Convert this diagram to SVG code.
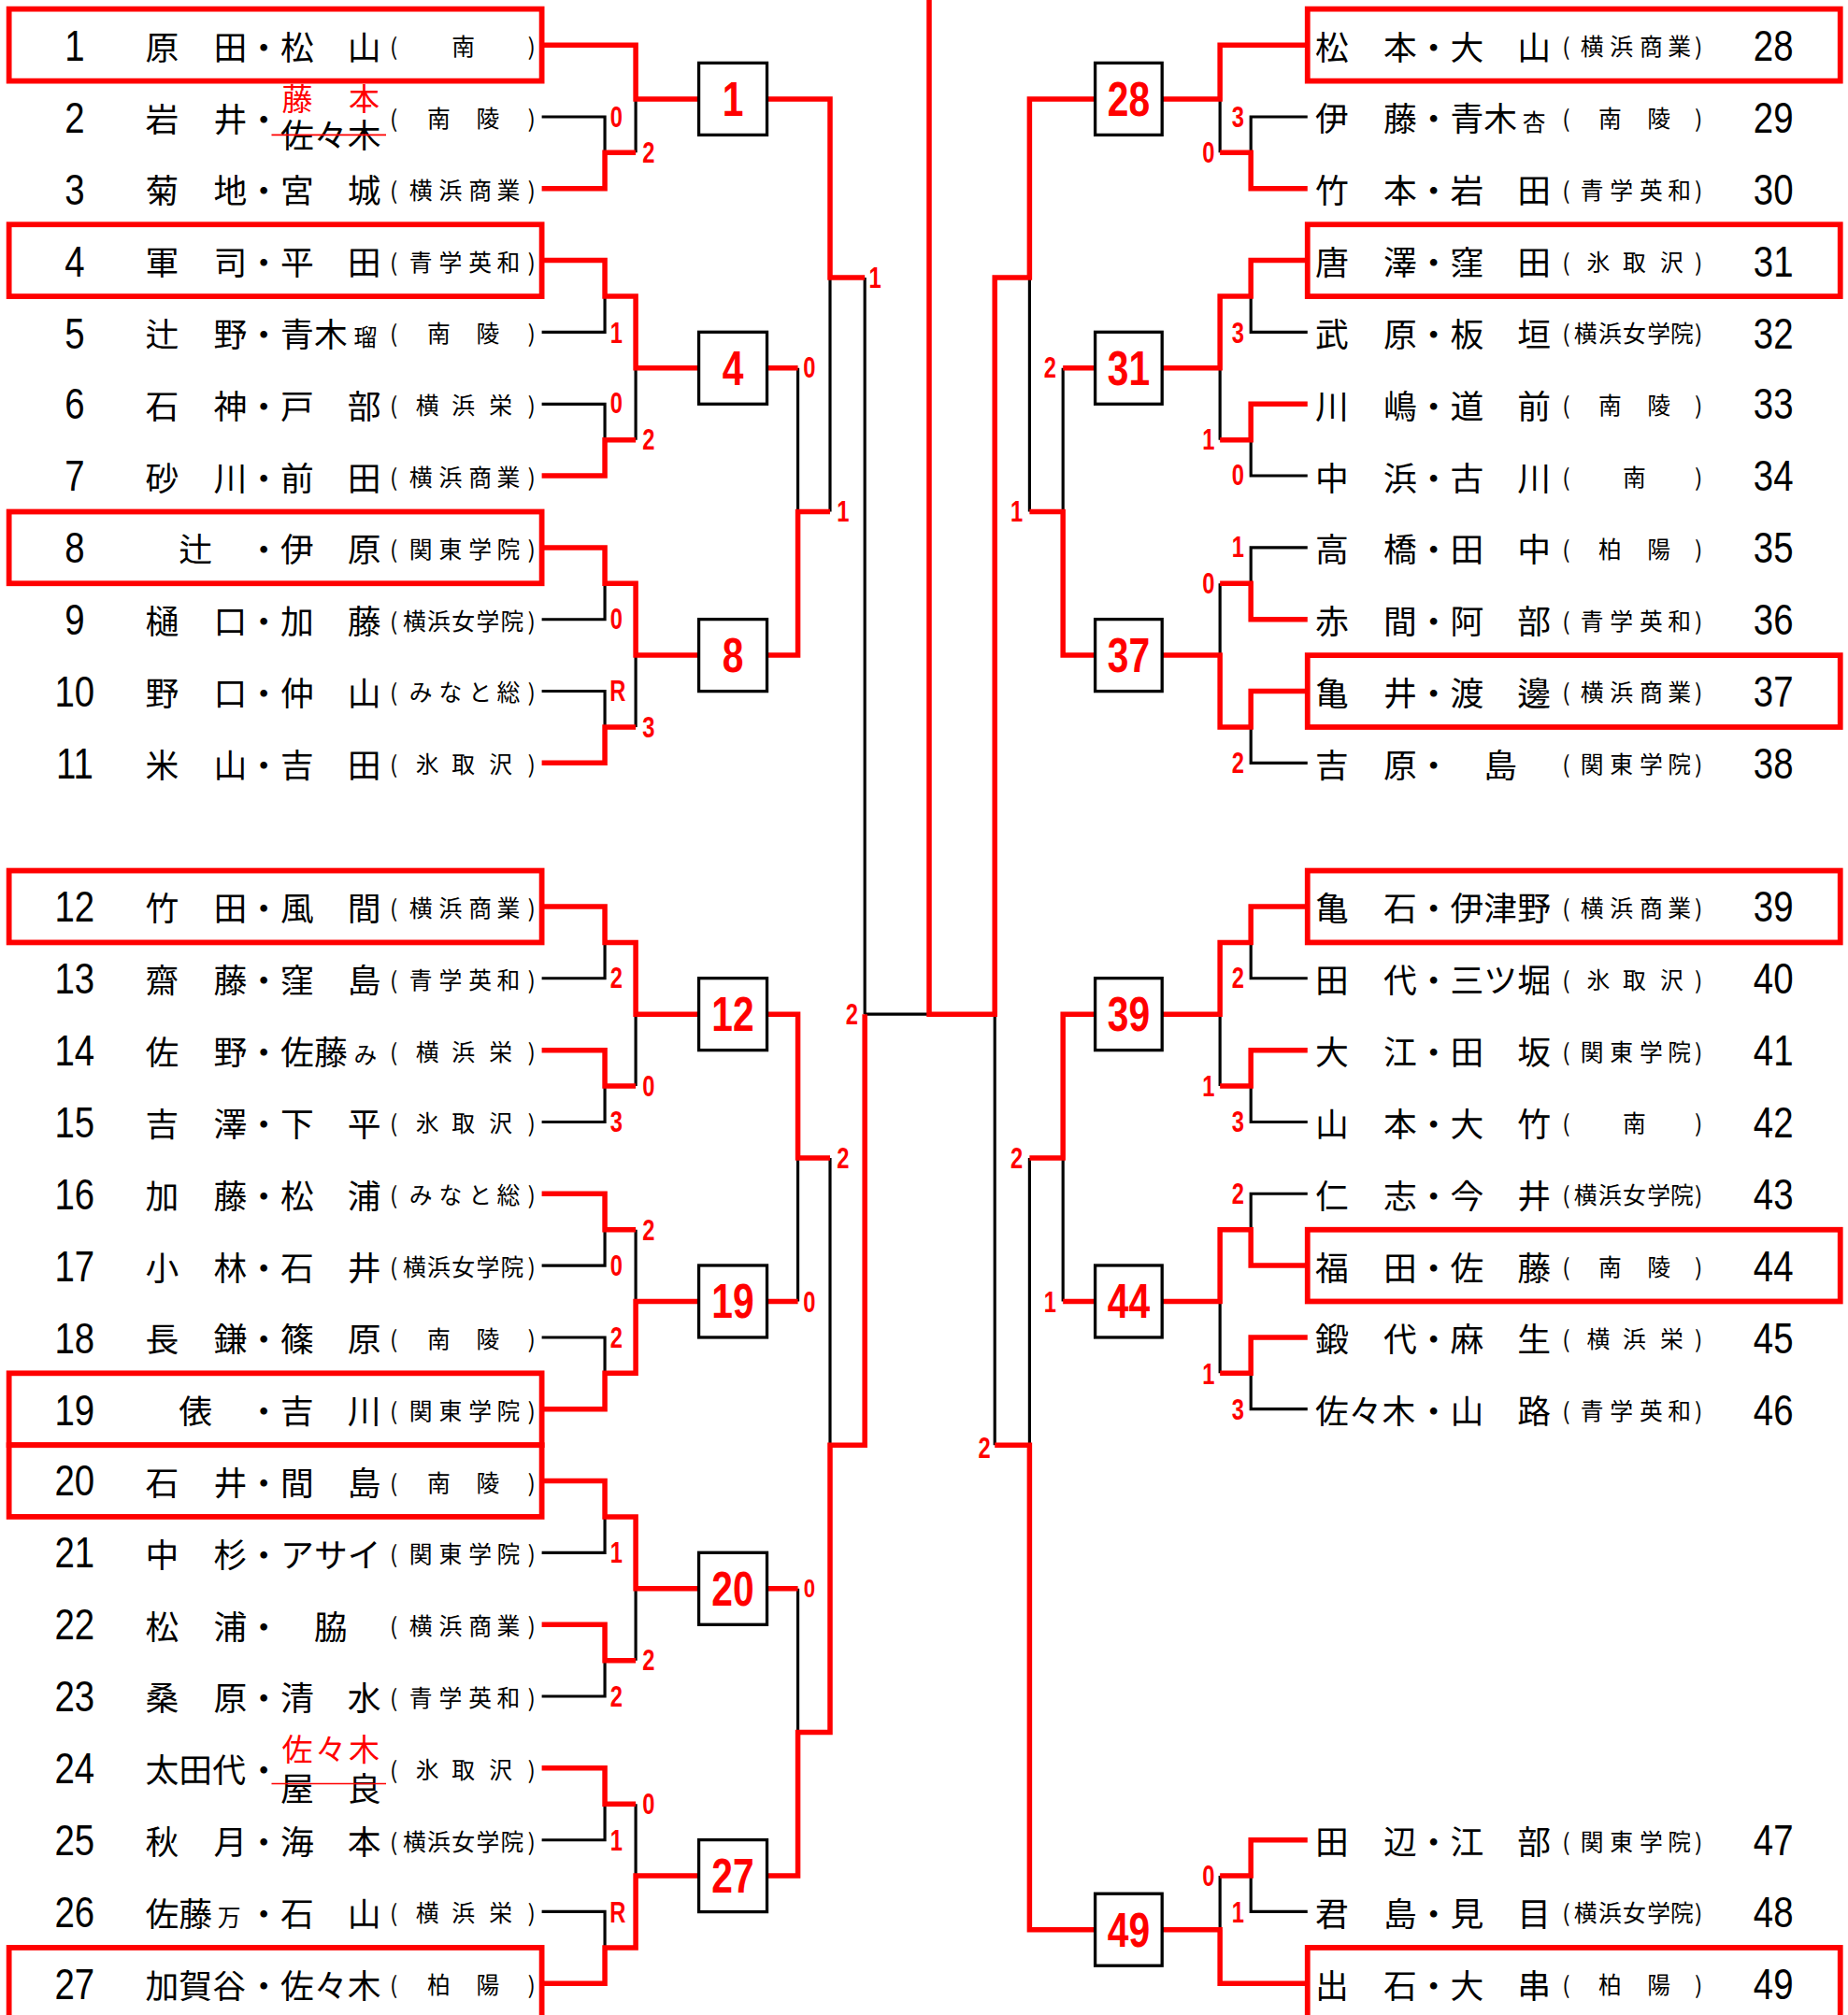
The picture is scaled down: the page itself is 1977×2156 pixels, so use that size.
<svg xmlns="http://www.w3.org/2000/svg" width="1977" height="2156" viewBox="0 0 1977 2156">
<style>
.num{font-family:"Liberation Sans",Arial,sans-serif;font-size:34px;fill:#000;text-anchor:middle;dominant-baseline:central}
.nm{font-family:"Noto Sans CJK JP",sans-serif;font-size:26px;fill:#000;text-anchor:middle;dominant-baseline:central}
.red{fill:#f00;font-size:24px}
.sm{font-family:"Noto Sans CJK JP",sans-serif;font-size:18px;fill:#000;text-anchor:middle;dominant-baseline:central}
.sc{font-family:"Noto Sans CJK JP",sans-serif;font-size:18px;fill:#000;text-anchor:middle;dominant-baseline:central}
.bx{fill:none;stroke:#f00;stroke-width:4.2}
.rb{fill:#fff;stroke:#000;stroke-width:2.4}
.rn{font-family:"Liberation Sans",Arial,sans-serif;font-weight:bold;font-size:38px;fill:#f00;text-anchor:middle;dominant-baseline:central}
.s{font-family:"Liberation Sans",Arial,sans-serif;font-weight:bold;font-size:23px;fill:#f00;text-anchor:middle;dominant-baseline:central}
.k{fill:none;stroke:#000;stroke-width:2.3}
.r{fill:none;stroke:#f00;stroke-width:4}
.st{stroke:#f00;stroke-width:1.2}
</style>
<rect width="1977" height="2156" fill="#fff"/>
<g transform="scale(1.37674,1.375)">
<g id="connectors">
<path class="k" d="M421,90.9H470V118.8 M494,77V118.8 M645,216V398.2 M672,216V789.2 M421,258.5H470V230.5 M421,314.4H470V342.3 M494,286.4V342.3 M620,286.4V398.2 M421,482H470V454 M421,537.8H470V565.8 M494,509.9V565.8 M421,761.3H470V733.4 M421,873.1H470V845.1 M494,789.2V845.1 M620,901V1012.7 M645,901V1124.5 M421,984.8H470V956.9 M421,1040.7H470V1068.6 M494,956.9V1012.7 M421,1208.3H470V1180.3 M421,1320H470V1292.1 M494,1236.2V1292.1 M620,1236.2V1348 M421,1431.8H470V1403.8 M421,1487.6H470V1515.6 M494,1403.8V1459.7 M672,789.2H722"/>
<path class="k" d="M1016,90.9H972V118.8 M948,77V118.8 M800,216V398.2 M773,789.2V1124.5 M1016,258.5H972V230.5 M1016,370.2H972V342.3 M948,286.4V342.3 M826,286.4V398.2 M1016,426.1H972V454 M1016,593.7H972V565.8 M948,454V509.9 M1016,761.3H972V733.4 M1016,873.1H972V845.1 M948,789.2V845.1 M826,901V1012.7 M800,901V1124.5 M1016,928.9H972V956.9 M1016,1096.5H972V1068.6 M948,1012.7V1068.6 M1016,1487.6H972V1459.7 M948,1459.7V1501.6"/>
<path class="r" d="M421,35H494V77H543 M421,146.7H470V118.8H494 M596,77H645V216H672 M421,202.6H470V230.5H494V286.4H543 M421,370.2H470V342.3H494 M596,286.4H620 M421,426.1H470V454H494V509.9H543 M421,593.7H470V565.8H494 M596,509.9H620V398.2H645 M421,705.4H470V733.4H494V789.2H543 M421,817.2H470V845.1H494 M596,789.2H620V901H645 M421,928.9H470V956.9H494 M421,1096.5H470V1068.6H494V1012.7H543 M596,1012.7H620 M421,1152.4H470V1180.3H494V1236.2H543 M421,1264.1H470V1292.1H494 M596,1236.2H620 M421,1375.9H470V1403.8H494 M421,1543.5H470V1515.6H494V1459.7H543 M596,1459.7H620V1348H645V1124.5H672V789.2 M722,-5V789.2H773V216H800V77H851"/>
<path class="r" d="M1016,35H948V77H903 M1016,146.7H972V118.8H948 M1016,202.6H972V230.5H948V286.4H903 M1016,314.4H972V342.3H948 M851,286.4H826 M1016,482H972V454H948 M1016,537.8H972V565.8H948V509.9H903 M851,509.9H826V398.2H800 M1016,705.4H972V733.4H948V789.2H903 M1016,817.2H972V845.1H948 M851,789.2H826V901H800 M1016,984.8H972V956.9H948V1012.7H903 M1016,1040.7H972V1068.6H948 M851,1012.7H826 M1016,1431.8H972V1459.7H948 M1016,1543.5H948V1501.6H903 M851,1501.6H800V1124.5H773"/>
</g>
<g id="scores">
<text class="s" transform="translate(479 91) scale(0.75 1)">0</text>
<text class="s" transform="translate(504 119) scale(0.75 1)">2</text>
<text class="s" transform="translate(680 216) scale(0.75 1)">1</text>
<text class="s" transform="translate(479 259) scale(0.75 1)">1</text>
<text class="s" transform="translate(629 286) scale(0.75 1)">0</text>
<text class="s" transform="translate(479 314) scale(0.75 1)">0</text>
<text class="s" transform="translate(504 342) scale(0.75 1)">2</text>
<text class="s" transform="translate(655 398) scale(0.75 1)">1</text>
<text class="s" transform="translate(479 482) scale(0.75 1)">0</text>
<text class="s" transform="translate(480 538) scale(0.75 1)">R</text>
<text class="s" transform="translate(504 566) scale(0.75 1)">3</text>
<text class="s" transform="translate(479 761) scale(0.75 1)">2</text>
<text class="s" transform="translate(662 789) scale(0.75 1)">2</text>
<text class="s" transform="translate(504 845) scale(0.75 1)">0</text>
<text class="s" transform="translate(479 873) scale(0.75 1)">3</text>
<text class="s" transform="translate(655 901) scale(0.75 1)">2</text>
<text class="s" transform="translate(504 957) scale(0.75 1)">2</text>
<text class="s" transform="translate(479 985) scale(0.75 1)">0</text>
<text class="s" transform="translate(629 1013) scale(0.75 1)">0</text>
<text class="s" transform="translate(479 1041) scale(0.75 1)">2</text>
<text class="s" transform="translate(479 1208) scale(0.75 1)">1</text>
<text class="s" transform="translate(629 1236) scale(0.7 0.85)">0</text>
<text class="s" transform="translate(504 1292) scale(0.75 1)">2</text>
<text class="s" transform="translate(479 1320) scale(0.75 1)">2</text>
<text class="s" transform="translate(504 1404) scale(0.75 1)">0</text>
<text class="s" transform="translate(479 1432) scale(0.75 1)">1</text>
<text class="s" transform="translate(480 1488) scale(0.75 1)">R</text>
<text class="s" transform="translate(962 91) scale(0.75 1)">3</text>
<text class="s" transform="translate(939 119) scale(0.75 1)">0</text>
<text class="s" transform="translate(816 286) scale(0.75 1)">2</text>
<text class="s" transform="translate(962 259) scale(0.75 1)">3</text>
<text class="s" transform="translate(939 342) scale(0.75 1)">1</text>
<text class="s" transform="translate(962 370) scale(0.75 1)">0</text>
<text class="s" transform="translate(790 398) scale(0.75 1)">1</text>
<text class="s" transform="translate(962 426) scale(0.75 1)">1</text>
<text class="s" transform="translate(939 454) scale(0.75 1)">0</text>
<text class="s" transform="translate(962 594) scale(0.75 1)">2</text>
<text class="s" transform="translate(962 761) scale(0.75 1)">2</text>
<text class="s" transform="translate(939 845) scale(0.75 1)">1</text>
<text class="s" transform="translate(962 873) scale(0.75 1)">3</text>
<text class="s" transform="translate(790 901) scale(0.75 1)">2</text>
<text class="s" transform="translate(962 929) scale(0.75 1)">2</text>
<text class="s" transform="translate(816 1013) scale(0.75 1)">1</text>
<text class="s" transform="translate(939 1069) scale(0.75 1)">1</text>
<text class="s" transform="translate(962 1097) scale(0.75 1)">3</text>
<text class="s" transform="translate(765 1127) scale(0.75 1)">2</text>
<text class="s" transform="translate(939 1460) scale(0.75 1)">0</text>
<text class="s" transform="translate(962 1488) scale(0.75 1)">1</text>
</g>
<g id="matches">
<g id="m1"><rect class="rb" x="543" y="49" width="53" height="56"/><text class="rn" transform="translate(569.5 77) scale(0.78 1)">1</text></g>
<g id="m4"><rect class="rb" x="543" y="258.4" width="53" height="56"/><text class="rn" transform="translate(569.5 286.4) scale(0.78 1)">4</text></g>
<g id="m8"><rect class="rb" x="543" y="481.9" width="53" height="56"/><text class="rn" transform="translate(569.5 509.9) scale(0.78 1)">8</text></g>
<g id="m12"><rect class="rb" x="543" y="761.2" width="53" height="56"/><text class="rn" transform="translate(569.5 789.2) scale(0.78 1)">12</text></g>
<g id="m19"><rect class="rb" x="543" y="984.7" width="53" height="56"/><text class="rn" transform="translate(569.5 1012.7) scale(0.78 1)">19</text></g>
<g id="m20"><rect class="rb" x="543" y="1208.2" width="53" height="56"/><text class="rn" transform="translate(569.5 1236.2) scale(0.78 1)">20</text></g>
<g id="m27"><rect class="rb" x="543" y="1431.7" width="53" height="56"/><text class="rn" transform="translate(569.5 1459.7) scale(0.78 1)">27</text></g>
<g id="m28"><rect class="rb" x="851" y="49" width="52" height="56"/><text class="rn" transform="translate(877 77) scale(0.78 1)">28</text></g>
<g id="m31"><rect class="rb" x="851" y="258.4" width="52" height="56"/><text class="rn" transform="translate(877 286.4) scale(0.78 1)">31</text></g>
<g id="m37"><rect class="rb" x="851" y="481.9" width="52" height="56"/><text class="rn" transform="translate(877 509.9) scale(0.78 1)">37</text></g>
<g id="m39"><rect class="rb" x="851" y="761.2" width="52" height="56"/><text class="rn" transform="translate(877 789.2) scale(0.78 1)">39</text></g>
<g id="m44"><rect class="rb" x="851" y="984.7" width="52" height="56"/><text class="rn" transform="translate(877 1012.7) scale(0.78 1)">44</text></g>
<g id="m49"><rect class="rb" x="851" y="1473.6" width="52" height="56"/><text class="rn" transform="translate(877 1501.6) scale(0.78 1)">49</text></g>
</g>
<g id="teams">
<g id="t1"><rect class="bx" x="7" y="7" width="414" height="56"/><text class="num" transform="translate(58 35) scale(0.82 1)">1</text><text class="nm" x="126 179 205 231 283" y="35">原田・松山</text><text class="sc" x="306 360 413" y="35">(南)</text></g>
<g id="t2"><text class="num" transform="translate(58 91) scale(0.82 1)">2</text><text class="nm" x="126 179 205" y="91">岩井・</text><text class="nm red" x="231 283" y="76">藤本</text><text class="nm" x="231 257 283" y="104">佐々木</text><line class="st" x1="211" y1="105" x2="300" y2="105"/><text class="sc" x="306 341 379 413" y="91">(南陵)</text></g>
<g id="t3"><text class="num" transform="translate(58 147) scale(0.82 1)">3</text><text class="nm" x="126 179 205 231 283" y="146.7">菊地・宮城</text><text class="sc" x="306 327 350 373 395 413" y="146.7">(横浜商業)</text></g>
<g id="t4"><rect class="bx" x="7" y="174.7" width="414" height="55.9"/><text class="num" transform="translate(58 203) scale(0.82 1)">4</text><text class="nm" x="126 179 205 231 283" y="202.6">軍司・平田</text><text class="sc" x="306 327 350 373 395 413" y="202.6">(青学英和)</text></g>
<g id="t5"><text class="num" transform="translate(58 259) scale(0.82 1)">5</text><text class="nm" x="126 179 205 231 257" y="258.5">辻野・青木</text><text class="sm" x="284" y="261">瑠</text><text class="sc" x="306 341 379 413" y="258.5">(南陵)</text></g>
<g id="t6"><text class="num" transform="translate(58 314) scale(0.82 1)">6</text><text class="nm" x="126 179 205 231 283" y="314.4">石神・戸部</text><text class="sc" x="306 332 360 389 413" y="314.4">(横浜栄)</text></g>
<g id="t7"><text class="num" transform="translate(58 370) scale(0.82 1)">7</text><text class="nm" x="126 179 205 231 283" y="370.2">砂川・前田</text><text class="sc" x="306 327 350 373 395 413" y="370.2">(横浜商業)</text></g>
<g id="t8"><rect class="bx" x="7" y="398.2" width="414" height="55.8"/><text class="num" transform="translate(58 426) scale(0.82 1)">8</text><text class="nm" x="152 205 231 283" y="426.1">辻・伊原</text><text class="sc" x="306 327 350 373 395 413" y="426.1">(関東学院)</text></g>
<g id="t9"><text class="num" transform="translate(58 482) scale(0.82 1)">9</text><text class="nm" x="126 179 205 231 283" y="482">樋口・加藤</text><text class="sc" x="306 322 341 360 379 398 413" y="482">(横浜女学院)</text></g>
<g id="t10"><text class="num" transform="translate(58 538) scale(0.82 1)">10</text><text class="nm" x="126 179 205 231 283" y="537.8">野口・仲山</text><text class="sc" x="306 327 350 373 395 413" y="537.8">(みなと総)</text></g>
<g id="t11"><text class="num" transform="translate(58 594) scale(0.82 1)">11</text><text class="nm" x="126 179 205 231 283" y="593.7">米山・吉田</text><text class="sc" x="306 332 360 389 413" y="593.7">(氷取沢)</text></g>
<g id="t12"><rect class="bx" x="7" y="677.5" width="414" height="55.9"/><text class="num" transform="translate(58 705) scale(0.82 1)">12</text><text class="nm" x="126 179 205 231 283" y="705.4">竹田・風間</text><text class="sc" x="306 327 350 373 395 413" y="705.4">(横浜商業)</text></g>
<g id="t13"><text class="num" transform="translate(58 761) scale(0.82 1)">13</text><text class="nm" x="126 179 205 231 283" y="761.3">齋藤・窪島</text><text class="sc" x="306 327 350 373 395 413" y="761.3">(青学英和)</text></g>
<g id="t14"><text class="num" transform="translate(58 817) scale(0.82 1)">14</text><text class="nm" x="126 179 205 231 257" y="817.2">佐野・佐藤</text><text class="sm" x="284" y="820">み</text><text class="sc" x="306 332 360 389 413" y="817.2">(横浜栄)</text></g>
<g id="t15"><text class="num" transform="translate(58 873) scale(0.82 1)">15</text><text class="nm" x="126 179 205 231 283" y="873.1">吉澤・下平</text><text class="sc" x="306 332 360 389 413" y="873.1">(氷取沢)</text></g>
<g id="t16"><text class="num" transform="translate(58 929) scale(0.82 1)">16</text><text class="nm" x="126 179 205 231 283" y="928.9">加藤・松浦</text><text class="sc" x="306 327 350 373 395 413" y="928.9">(みなと総)</text></g>
<g id="t17"><text class="num" transform="translate(58 985) scale(0.82 1)">17</text><text class="nm" x="126 179 205 231 283" y="984.8">小林・石井</text><text class="sc" x="306 322 341 360 379 398 413" y="984.8">(横浜女学院)</text></g>
<g id="t18"><text class="num" transform="translate(58 1041) scale(0.82 1)">18</text><text class="nm" x="126 179 205 231 283" y="1040.7">長鎌・篠原</text><text class="sc" x="306 341 379 413" y="1040.7">(南陵)</text></g>
<g id="t19"><rect class="bx" x="7" y="1068.6" width="414" height="55.9"/><text class="num" transform="translate(58 1097) scale(0.82 1)">19</text><text class="nm" x="152 205 231 283" y="1096.5">俵・吉川</text><text class="sc" x="306 327 350 373 395 413" y="1096.5">(関東学院)</text></g>
<g id="t20"><rect class="bx" x="7" y="1124.5" width="414" height="55.8"/><text class="num" transform="translate(58 1152) scale(0.82 1)">20</text><text class="nm" x="126 179 205 231 283" y="1152.4">石井・間島</text><text class="sc" x="306 341 379 413" y="1152.4">(南陵)</text></g>
<g id="t21"><text class="num" transform="translate(58 1208) scale(0.82 1)">21</text><text class="nm" x="126 179 205 231 257 283" y="1208.3">中杉・アサイ</text><text class="sc" x="306 327 350 373 395 413" y="1208.3">(関東学院)</text></g>
<g id="t22"><text class="num" transform="translate(58 1264) scale(0.82 1)">22</text><text class="nm" x="126 179 205 257" y="1264.1">松浦・脇</text><text class="sc" x="306 327 350 373 395 413" y="1264.1">(横浜商業)</text></g>
<g id="t23"><text class="num" transform="translate(58 1320) scale(0.82 1)">23</text><text class="nm" x="126 179 205 231 283" y="1320">桑原・清水</text><text class="sc" x="306 327 350 373 395 413" y="1320">(青学英和)</text></g>
<g id="t24"><text class="num" transform="translate(58 1376) scale(0.82 1)">24</text><text class="nm" x="126 152 178 205" y="1375.9">太田代・</text><text class="nm red" x="231 257 283" y="1360">佐々木</text><text class="nm" x="231 283" y="1390">屋良</text><line class="st" x1="211" y1="1388" x2="300" y2="1388"/><text class="sc" x="306 332 360 389 413" y="1375.9">(氷取沢)</text></g>
<g id="t25"><text class="num" transform="translate(58 1432) scale(0.82 1)">25</text><text class="nm" x="126 179 205 231 283" y="1431.8">秋月・海本</text><text class="sc" x="306 322 341 360 379 398 413" y="1431.8">(横浜女学院)</text></g>
<g id="t26"><text class="num" transform="translate(58 1488) scale(0.82 1)">26</text><text class="nm" x="126 152" y="1487.6">佐藤</text><text class="sm" x="178" y="1491">万</text><text class="nm" x="205 231 283" y="1487.6">・石山</text><text class="sc" x="306 332 360 389 413" y="1487.6">(横浜栄)</text></g>
<g id="t27"><rect class="bx" x="7" y="1515.6" width="414" height="58"/><text class="num" transform="translate(58 1544) scale(0.82 1)">27</text><text class="nm" x="126 152 178 205 231 257 283" y="1543.5">加賀谷・佐々木</text><text class="sc" x="306 341 379 413" y="1543.5">(柏陽)</text></g>

<g id="t28"><rect class="bx" x="1016" y="7" width="414" height="56"/><text class="nm" x="1035 1088 1114 1140 1192" y="35">松本・大山</text><text class="sc" x="1217 1237 1260 1283 1305 1320" y="35">(横浜商業)</text><text class="num" transform="translate(1378 35) scale(0.82 1)">28</text></g>
<g id="t29"><text class="nm" x="1035 1088 1114 1140 1166" y="90.9">伊藤・青木</text><text class="sm" x="1192" y="94">杏</text><text class="sc" x="1217 1251 1289 1320" y="90.9">(南陵)</text><text class="num" transform="translate(1378 91) scale(0.82 1)">29</text></g>
<g id="t30"><text class="nm" x="1035 1088 1114 1140 1192" y="146.7">竹本・岩田</text><text class="sc" x="1217 1237 1260 1283 1305 1320" y="146.7">(青学英和)</text><text class="num" transform="translate(1378 147) scale(0.82 1)">30</text></g>
<g id="t31"><rect class="bx" x="1016" y="174.7" width="414" height="55.9"/><text class="nm" x="1035 1088 1114 1140 1192" y="202.6">唐澤・窪田</text><text class="sc" x="1217 1242 1270 1299 1320" y="202.6">(氷取沢)</text><text class="num" transform="translate(1378 203) scale(0.82 1)">31</text></g>
<g id="t32"><text class="nm" x="1035 1088 1114 1140 1192" y="258.5">武原・板垣</text><text class="sc" x="1217 1232 1251 1270 1289 1307 1320" y="258.5">(横浜女学院)</text><text class="num" transform="translate(1378 259) scale(0.82 1)">32</text></g>
<g id="t33"><text class="nm" x="1035 1088 1114 1140 1192" y="314.4">川嶋・道前</text><text class="sc" x="1217 1251 1289 1320" y="314.4">(南陵)</text><text class="num" transform="translate(1378 314) scale(0.82 1)">33</text></g>
<g id="t34"><text class="nm" x="1035 1088 1114 1140 1192" y="370.2">中浜・古川</text><text class="sc" x="1217 1270 1320" y="370.2">(南)</text><text class="num" transform="translate(1378 370) scale(0.82 1)">34</text></g>
<g id="t35"><text class="nm" x="1035 1088 1114 1140 1192" y="426.1">高橋・田中</text><text class="sc" x="1217 1251 1289 1320" y="426.1">(柏陽)</text><text class="num" transform="translate(1378 426) scale(0.82 1)">35</text></g>
<g id="t36"><text class="nm" x="1035 1088 1114 1140 1192" y="482">赤間・阿部</text><text class="sc" x="1217 1237 1260 1283 1305 1320" y="482">(青学英和)</text><text class="num" transform="translate(1378 482) scale(0.82 1)">36</text></g>
<g id="t37"><rect class="bx" x="1016" y="509.9" width="414" height="55.9"/><text class="nm" x="1035 1088 1114 1140 1192" y="537.8">亀井・渡邊</text><text class="sc" x="1217 1237 1260 1283 1305 1320" y="537.8">(横浜商業)</text><text class="num" transform="translate(1378 538) scale(0.82 1)">37</text></g>
<g id="t38"><text class="nm" x="1035 1088 1114 1166" y="593.7">吉原・島</text><text class="sc" x="1217 1237 1260 1283 1305 1320" y="593.7">(関東学院)</text><text class="num" transform="translate(1378 594) scale(0.82 1)">38</text></g>
<g id="t39"><rect class="bx" x="1016" y="677.5" width="414" height="55.9"/><text class="nm" x="1035 1088 1114 1140 1166 1192" y="705.4">亀石・伊津野</text><text class="sc" x="1217 1237 1260 1283 1305 1320" y="705.4">(横浜商業)</text><text class="num" transform="translate(1378 705) scale(0.82 1)">39</text></g>
<g id="t40"><text class="nm" x="1035 1088 1114 1140 1166 1192" y="761.3">田代・三ツ堀</text><text class="sc" x="1217 1242 1270 1299 1320" y="761.3">(氷取沢)</text><text class="num" transform="translate(1378 761) scale(0.82 1)">40</text></g>
<g id="t41"><text class="nm" x="1035 1088 1114 1140 1192" y="817.2">大江・田坂</text><text class="sc" x="1217 1237 1260 1283 1305 1320" y="817.2">(関東学院)</text><text class="num" transform="translate(1378 817) scale(0.82 1)">41</text></g>
<g id="t42"><text class="nm" x="1035 1088 1114 1140 1192" y="873.1">山本・大竹</text><text class="sc" x="1217 1270 1320" y="873.1">(南)</text><text class="num" transform="translate(1378 873) scale(0.82 1)">42</text></g>
<g id="t43"><text class="nm" x="1035 1088 1114 1140 1192" y="928.9">仁志・今井</text><text class="sc" x="1217 1232 1251 1270 1289 1307 1320" y="928.9">(横浜女学院)</text><text class="num" transform="translate(1378 929) scale(0.82 1)">43</text></g>
<g id="t44"><rect class="bx" x="1016" y="956.9" width="414" height="55.8"/><text class="nm" x="1035 1088 1114 1140 1192" y="984.8">福田・佐藤</text><text class="sc" x="1217 1251 1289 1320" y="984.8">(南陵)</text><text class="num" transform="translate(1378 985) scale(0.82 1)">44</text></g>
<g id="t45"><text class="nm" x="1035 1088 1114 1140 1192" y="1040.7">鍛代・麻生</text><text class="sc" x="1217 1242 1270 1299 1320" y="1040.7">(横浜栄)</text><text class="num" transform="translate(1378 1041) scale(0.82 1)">45</text></g>
<g id="t46"><text class="nm" x="1035 1061 1087 1114 1140 1192" y="1096.5">佐々木・山路</text><text class="sc" x="1217 1237 1260 1283 1305 1320" y="1096.5">(青学英和)</text><text class="num" transform="translate(1378 1097) scale(0.82 1)">46</text></g>
<g id="t47"><text class="nm" x="1035 1088 1114 1140 1192" y="1431.8">田辺・江部</text><text class="sc" x="1217 1237 1260 1283 1305 1320" y="1431.8">(関東学院)</text><text class="num" transform="translate(1378 1432) scale(0.82 1)">47</text></g>
<g id="t48"><text class="nm" x="1035 1088 1114 1140 1192" y="1487.6">君島・見目</text><text class="sc" x="1217 1232 1251 1270 1289 1307 1320" y="1487.6">(横浜女学院)</text><text class="num" transform="translate(1378 1488) scale(0.82 1)">48</text></g>
<g id="t49"><rect class="bx" x="1016" y="1515.6" width="414" height="58"/><text class="nm" x="1035 1088 1114 1140 1192" y="1543.5">出石・大串</text><text class="sc" x="1217 1251 1289 1320" y="1543.5">(柏陽)</text><text class="num" transform="translate(1378 1544) scale(0.82 1)">49</text></g>
</g>
</g>
</svg>
